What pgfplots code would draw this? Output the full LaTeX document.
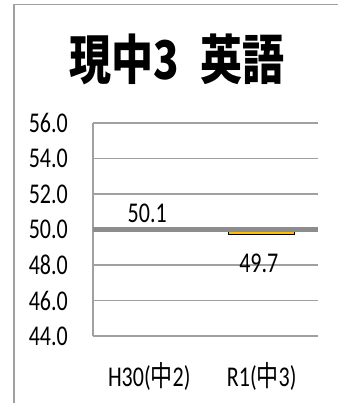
\documentclass[border=0pt]{standalone}
\usepackage{pgfplots}
\pgfplotsset{compat=1.18}
\usepackage{graphicx}
\usepackage{fontspec}
\setmainfont{Carlito}
\newfontfamily\cjk{Noto Sans CJK JP}
\definecolor{barorange}{HTML}{FFC000}
\definecolor{gridgray}{HTML}{A0A0A0}
\definecolor{axisgray}{HTML}{8C8C8C}
\newcommand{\vs}[1]{\scalebox{1}[1.3]{#1}}
\begin{document}
\begin{tikzpicture}[x=1pt,y=1pt]
\useasboundingbox (0,0) rectangle (338,403);
\draw[gridgray, line width=1.3pt] (14,0) -- (14,398.3) -- (338,398.3);
\node[font=\cjk\bfseries\fontsize{42}{46}\selectfont, inner sep=0pt] at (177,344) {\scalebox{1}[1.27]{現中3\hspace{0.5em}英語}};
\begin{axis}[
  at={(93pt,67pt)}, anchor=south west,
  scale only axis, width=225pt, height=213pt,
  xmin=-0.5, xmax=1.5, ymin=44, ymax=56,
  ytick={44,46,...,56},
  xtick={0,1},
  xticklabels={{\vs{H30({\cjk 中}2)}},{\vs{R1({\cjk 中}3)}}},
  yticklabel={\vs{\pgfmathprintnumber[fixed,precision=1,zerofill,assume math mode=true]{\tick}}},
  ticklabel style={font=\fontsize{22}{26}\selectfont},
  yticklabel style={anchor=east, inner sep=0pt, xshift=-25pt},
  xticklabel style={anchor=center, inner sep=0pt, yshift=-40pt},
  axis x line*=bottom, axis y line*=left,
  axis line style={gridgray, line width=1.3pt, -},
  ymajorgrids, grid style={gridgray, line width=1.3pt},
  major tick length=0pt,
  clip=false,
]
\addplot[fill=gray!45, draw=gridgray, line width=0.8pt] coordinates {(-0.293,50) (-0.293,50.1) (0.293,50.1) (0.293,50) (-0.293,50)};
\addplot[fill=barorange, draw=black, line width=1pt] coordinates {(0.707,50) (0.707,49.7) (1.293,49.7) (1.293,50) (0.707,50)};
\addplot[axisgray, line width=4.5pt] coordinates {(-0.5,50) (1.5,50)};
\addplot[draw=none, mark=none, point meta=y,
  nodes near coords={\vs{\pgfmathprintnumber[fixed,precision=1,zerofill,assume math mode=true]{\pgfplotspointmeta}}},
  every node near coord/.append style={font=\fontsize{22}{26}\selectfont, anchor=center, inner sep=0pt, yshift=14pt, xshift=-2pt}]
  coordinates {(0,50.1)};
\addplot[draw=none, mark=none, point meta=y,
  nodes near coords={\vs{\pgfmathprintnumber[fixed,precision=1,zerofill,assume math mode=true]{\pgfplotspointmeta}}},
  every node near coord/.append style={font=\fontsize{22}{26}\selectfont, anchor=center, inner sep=0pt, yshift=-28.7pt, xshift=-3pt}]
  coordinates {(1,49.7)};
\end{axis}
\end{tikzpicture}
\end{document}
